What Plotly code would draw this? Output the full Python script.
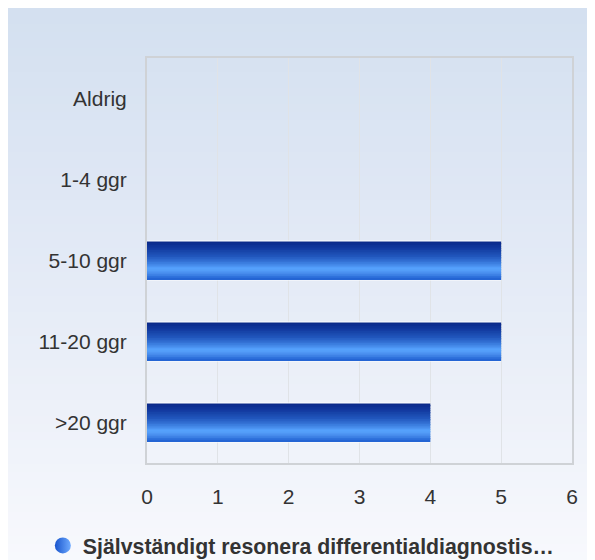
import plotly.graph_objects as go

categories = ["Aldrig", "1-4 ggr", "5-10 ggr", "11-20 ggr", ">20 ggr"]
values = [0, 0, 5, 5, 4]
series_name = "Självständigt resonera differentialdiagnostis…"
x_ticks = [0, 1, 2, 3, 4, 5, 6]

W, H = 595, 560
ML, MR, MT, MB = 139, 31, 50, 105
PW, PH = W - ML - MR, H - MT - MB


def lerp(c1, c2, t):
    return tuple(round(a + (b - a) * t) for a, b in zip(c1, c2))


def scale_color(stops, t):
    for i in range(len(stops) - 1):
        t0, c0 = stops[i]
        t1, c1 = stops[i + 1]
        if t0 <= t <= t1:
            return lerp(c0, c1, (t - t0) / (t1 - t0) if t1 > t0 else 0)
    return stops[-1][1]


def rgb(c):
    return "rgb(%d,%d,%d)" % c


fig = go.Figure()

# background gradient (paper), drawn as thin strips below the grid
bg_stops = [(0.0, (212, 224, 240)), (0.45, (227, 234, 246)), (0.8, (240, 243, 250)), (1.0, (248, 249, 253))]
n_bg = 70
shapes = []
for i in range(n_bg):
    y0px = H * i / n_bg
    y1px = H * (i + 1) / n_bg + 0.6
    shapes.append(dict(
        type="rect", xref="paper", yref="paper", layer="below",
        x0=-ML / PW, x1=(W - ML) / PW,
        y0=(H - MB - y1px) / PH, y1=(H - MB - y0px) / PH,
        fillcolor=rgb(scale_color(bg_stops, i / (n_bg - 1))), line_width=0,
    ))

# bars: white halo, then gradient strips
bar_w = 0.47
fig.add_trace(go.Bar(
    x=values, y=categories, orientation="h", width=bar_w + 0.025,
    marker=dict(color="rgba(255,255,255,0.9)", line_width=0),
    showlegend=False, hoverinfo="skip",
))
bar_stops = [(0.0, (10, 40, 135)), (0.15, (16, 54, 155)), (0.4, (34, 88, 190)),
             (0.58, (60, 126, 224)), (0.72, (88, 165, 255)), (0.82, (76, 145, 240)),
             (1.0, (30, 95, 208))]
n_strips = 22
for i in range(n_strips):
    t = (i + 0.5) / n_strips
    fig.add_trace(go.Bar(
        x=values, y=categories, orientation="h",
        width=bar_w / n_strips * 1.05,
        offset=bar_w / 2 - bar_w * (i + 1) / n_strips,
        marker=dict(color=rgb(scale_color(bar_stops, t)), line_width=0),
        showlegend=False,
        hovertemplate="%{y}: %{x}<extra></extra>",
    ))

# legend entry
fig.add_trace(go.Scatter(
    x=[None], y=[None], mode="markers", name=series_name,
    marker=dict(symbol="circle", size=20, color="rgb(25,85,205)",
                gradient=dict(type="horizontal", color="rgb(110,170,255)")),
))

fig.update_layout(
    width=W, height=H,
    margin=dict(l=ML, r=MR, t=MT, b=MB, autoexpand=False),
    paper_bgcolor="white",
    plot_bgcolor="rgba(0,0,0,0)",
    barmode="overlay",
    shapes=shapes,
    font=dict(family="Liberation Sans, Arial, sans-serif", size=21, color="#333333"),
    showlegend=True,
    legend=dict(orientation="h", xref="container", x=0.493, xanchor="center",
                yref="container", y=0.04, yanchor="middle",
                bgcolor="rgba(0,0,0,0)",
                font=dict(size=21.3, color="#333333", weight="bold")),
    xaxis=dict(range=[0, 6], tickvals=x_ticks, showgrid=True, gridcolor="#e0e3e7", gridwidth=1,
               showline=True, linecolor="#cfd2d6", linewidth=2, mirror=True,
               zeroline=False, ticks="", ticklabelstandoff=14),
    yaxis=dict(categoryorder="array", categoryarray=categories[::-1],
               showgrid=False, showline=True, linecolor="#cfd2d6", linewidth=2, mirror=True,
               ticks="", ticklabelstandoff=14),
)

fig.write_html("out.html")
